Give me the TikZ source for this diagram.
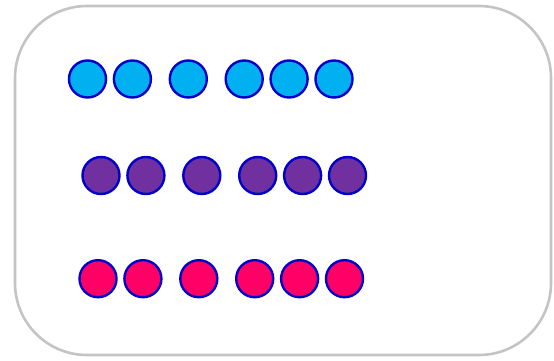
\documentclass[tikz,border=0pt]{standalone}
\usepackage{xcolor}
\usepackage{tikz}
\usetikzlibrary{positioning}
\definecolor{ballcyan}{HTML}{00B0F0}
\definecolor{ballpurple}{HTML}{7030A0}
\definecolor{ballpink}{HTML}{FF0066}
\definecolor{ballrim}{HTML}{0000C8}
\definecolor{framegray}{HTML}{C4C4C4}
\newlength{\Ball}
\setlength\Ball{37pt}

\begin{document}
\begin{tikzpicture}[
    x = 1pt, y = -1pt,
    ball/.style = {
      circle, draw = ballrim, line width = 2.4pt, inner sep = 0pt, minimum size = \Ball
    },
    cyanball/.style = {ball, fill = ballcyan},
    purpleball/.style = {ball, fill = ballpurple},
    pinkball/.style = {ball, fill = ballpink},
    frame/.style = {
      draw = framegray, line width = 2.6pt, rounded corners = 72pt
    },
    ]
\useasboundingbox  (0,0)  rectangle  (554,361);
\draw  [frame]  (15,6)  rectangle  (551,355);

% first row
\node  [cyanball]  (a1)  at  (87.5,79)  {};
\node  [cyanball]  (a2)  [right = 5.5pt of a1]  {};
\node  [cyanball]  (a3)  [right = 16.5pt of a2]  {};
\node  [cyanball]  (a4)  [right = 16.5pt of a3]  {};
\node  [cyanball]  (a5)  [right = 5.5pt of a4]  {};
\node  [cyanball]  (a6)  [right = 5.5pt of a5]  {};

% second row
\node  [purpleball]  (b1)  at  (101,175.5)  {};
\node  [purpleball]  (b2)  [right = 5.5pt of b1]  {};
\node  [purpleball]  (b3)  [right = 16.5pt of b2]  {};
\node  [purpleball]  (b4)  [right = 16.5pt of b3]  {};
\node  [purpleball]  (b5)  [right = 5.5pt of b4]  {};
\node  [purpleball]  (b6)  [right = 5.5pt of b5]  {};

% third row
\node  [pinkball]  (c1)  at  (98,278.7)  {};
\node  [pinkball]  (c2)  [right = 5.5pt of c1]  {};
\node  [pinkball]  (c3)  [right = 16.5pt of c2]  {};
\node  [pinkball]  (c4)  [right = 16.5pt of c3]  {};
\node  [pinkball]  (c5)  [right = 5.5pt of c4]  {};
\node  [pinkball]  (c6)  [right = 5.5pt of c5]  {};
\end{tikzpicture}
\end{document}
